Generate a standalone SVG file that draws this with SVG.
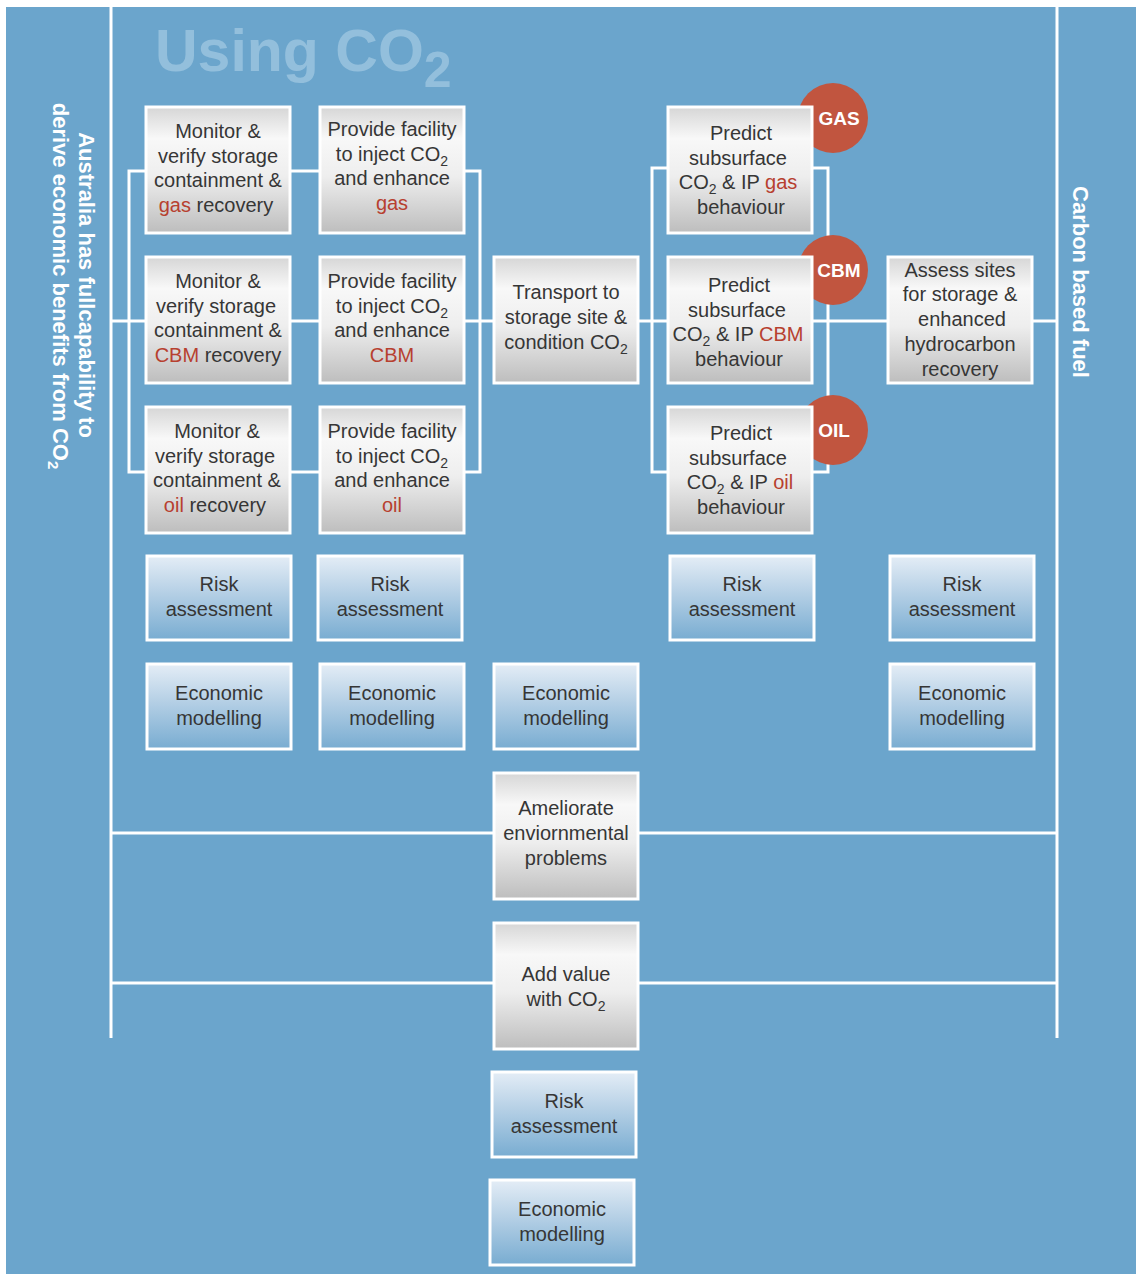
<svg xmlns="http://www.w3.org/2000/svg" width="1136" height="1274" viewBox="0 0 1136 1274">
  <defs>
    <linearGradient id="gGrey" x1="0" y1="0" x2="0" y2="1">
      <stop offset="0" stop-color="#d6d6d6"/>
      <stop offset="0.25" stop-color="#f8f8f8"/>
      <stop offset="0.55" stop-color="#eeeeee"/>
      <stop offset="1" stop-color="#bdbdbd"/>
    </linearGradient>
    <linearGradient id="gBlue" x1="0" y1="0" x2="0" y2="1">
      <stop offset="0" stop-color="#e4edf6"/>
      <stop offset="0.45" stop-color="#b4cfe5"/>
      <stop offset="1" stop-color="#78acd1"/>
    </linearGradient>
    <style>
      .bg { fill: #6ba5cc; }
      .wire { fill: none; stroke: #ffffff; stroke-width: 3; }
      .g { fill: url(#gGrey); stroke: #ffffff; stroke-width: 3; }
      .b { fill: url(#gBlue); stroke: #ffffff; stroke-width: 3; }
      .t { font-family: "Liberation Sans", Arial, sans-serif; font-size: 20px; fill: #363636; text-anchor: middle; }
      .r { fill: #b7402f; }
      .sub { font-size: 14px; }
      .tag { fill: #c1553f; }
      .tagt { font-family: "Liberation Sans", Arial, sans-serif; font-size: 19px; font-weight: bold; fill: #ffffff; text-anchor: middle; }
      .side { font-family: "Liberation Sans", Arial, sans-serif; font-size: 22px; font-weight: bold; fill: #ffffff; text-anchor: middle; }
      .title { font-family: "Liberation Sans", Arial, sans-serif; font-weight: bold; fill: #93bfdc; }
    </style>
  </defs>

  <!-- backdrop -->
  <rect class="bg" x="6" y="7" width="1130" height="1267"/>

  <!-- heading -->
  <text class="title" x="155" y="71" font-size="59">Using CO<tspan font-size="50" dy="16">2</tspan></text>

  <!-- side captions -->
  <g id="caption-left">
    <text class="side" transform="translate(79,285) rotate(90)">Australia has fullcapability to</text>
    <text class="side" transform="translate(53,286) rotate(90)">derive economic benefits from CO<tspan font-size="15" dy="5">2</tspan></text>
  </g>
  <g id="caption-right">
    <text class="side" transform="translate(1073,282) rotate(90)">Carbon based fuel</text>
  </g>

  <!-- connectors -->
  <g id="connectors">
    <path class="wire" d="M111 7 V1038"/>
    <path class="wire" d="M1057 7 V1038"/>
    <path class="wire" d="M111 321 H1057"/>
    <path class="wire" d="M111 833 H1057"/>
    <path class="wire" d="M111 983 H1057"/>
    <path class="wire" d="M146 171 H129 V472 H146"/>
    <path class="wire" d="M290 171 H320"/>
    <path class="wire" d="M290 472 H320"/>
    <path class="wire" d="M464 171 H480 V472 H464"/>
    <path class="wire" d="M668 168 H652 V472 H668"/>
    <path class="wire" d="M812 168 H828 V472 H812"/>
  </g>

  <!-- resource tags behind the prediction boxes -->
  <g id="tag-gas"><circle class="tag" cx="833" cy="118" r="35"/><text class="tagt" x="839" y="125">GAS</text></g>
  <g id="tag-cbm"><circle class="tag" cx="833" cy="270" r="35"/><text class="tagt" x="839" y="277">CBM</text></g>
  <g id="tag-oil"><circle class="tag" cx="833" cy="430" r="35"/><text class="tagt" x="834" y="437">OIL</text></g>

  <!-- column 1: monitoring -->
  <g id="monitor-gas">
    <rect class="g" x="146" y="107" width="144" height="126"/>
    <text class="t" x="218" y="138">Monitor &amp;</text>
    <text class="t" x="218" y="163">verify storage</text>
    <text class="t" x="218" y="187">containment &amp;</text>
    <text class="t" x="216" y="212"><tspan class="r">gas</tspan> recovery</text>
  </g>
  <g id="monitor-cbm">
    <rect class="g" x="146" y="257" width="144" height="126"/>
    <text class="t" x="218" y="288">Monitor &amp;</text>
    <text class="t" x="216" y="313">verify storage</text>
    <text class="t" x="218" y="337">containment &amp;</text>
    <text class="t" x="218" y="362"><tspan class="r">CBM</tspan> recovery</text>
  </g>
  <g id="monitor-oil">
    <rect class="g" x="146" y="407" width="144" height="126"/>
    <text class="t" x="217" y="438">Monitor &amp;</text>
    <text class="t" x="215" y="463">verify storage</text>
    <text class="t" x="217" y="487">containment &amp;</text>
    <text class="t" x="215" y="512"><tspan class="r">oil</tspan> recovery</text>
  </g>

  <!-- column 2: injection -->
  <g id="inject-gas">
    <rect class="g" x="320" y="107" width="144" height="126"/>
    <text class="t" x="392" y="136">Provide facility</text>
    <text class="t" x="392" y="161">to inject CO<tspan class="sub" dy="5">2</tspan></text>
    <text class="t" x="392" y="185">and enhance</text>
    <text class="t r" x="392" y="210">gas</text>
  </g>
  <g id="inject-cbm">
    <rect class="g" x="320" y="257" width="144" height="126"/>
    <text class="t" x="392" y="288">Provide facility</text>
    <text class="t" x="392" y="313">to inject CO<tspan class="sub" dy="5">2</tspan></text>
    <text class="t" x="392" y="337">and enhance</text>
    <text class="t r" x="392" y="362">CBM</text>
  </g>
  <g id="inject-oil">
    <rect class="g" x="320" y="407" width="144" height="126"/>
    <text class="t" x="392" y="438">Provide facility</text>
    <text class="t" x="392" y="463">to inject CO<tspan class="sub" dy="5">2</tspan></text>
    <text class="t" x="392" y="487">and enhance</text>
    <text class="t r" x="392" y="512">oil</text>
  </g>

  <!-- column 3: transport -->
  <g id="transport">
    <rect class="g" x="494" y="257" width="144" height="126"/>
    <text class="t" x="566" y="299">Transport to</text>
    <text class="t" x="566" y="324">storage site &amp;</text>
    <text class="t" x="566" y="349">condition CO<tspan class="sub" dy="5">2</tspan></text>
  </g>

  <!-- column 4: subsurface prediction -->
  <g id="predict-gas">
    <rect class="g" x="668" y="107" width="144" height="126"/>
    <text class="t" x="741" y="140">Predict</text>
    <text class="t" x="738" y="165">subsurface</text>
    <text class="t" x="738" y="189">CO<tspan class="sub" dy="5">2</tspan><tspan dy="-5"> &amp; IP </tspan><tspan class="r">gas</tspan></text>
    <text class="t" x="741" y="214">behaviour</text>
  </g>
  <g id="predict-cbm">
    <rect class="g" x="668" y="257" width="144" height="126"/>
    <text class="t" x="739" y="292">Predict</text>
    <text class="t" x="737" y="317">subsurface</text>
    <text class="t" x="738" y="341">CO<tspan class="sub" dy="5">2</tspan><tspan dy="-5"> &amp; IP </tspan><tspan class="r">CBM</tspan></text>
    <text class="t" x="739" y="366">behaviour</text>
  </g>
  <g id="predict-oil">
    <rect class="g" x="668" y="407" width="144" height="126"/>
    <text class="t" x="741" y="440">Predict</text>
    <text class="t" x="738" y="465">subsurface</text>
    <text class="t" x="740" y="489">CO<tspan class="sub" dy="5">2</tspan><tspan dy="-5"> &amp; IP </tspan><tspan class="r">oil</tspan></text>
    <text class="t" x="741" y="514">behaviour</text>
  </g>

  <!-- column 5: site assessment -->
  <g id="assess">
    <rect class="g" x="888" y="257" width="144" height="126"/>
    <text class="t" x="960" y="277">Assess sites</text>
    <text class="t" x="960" y="301">for storage &amp;</text>
    <text class="t" x="962" y="326">enhanced</text>
    <text class="t" x="960" y="351">hydrocarbon</text>
    <text class="t" x="960" y="376">recovery</text>
  </g>

  <!-- risk assessment row -->
  <g id="risk-1"><rect class="b" x="147" y="556" width="144" height="84"/><text class="t" x="219" y="591">Risk</text><text class="t" x="219" y="616">assessment</text></g>
  <g id="risk-2"><rect class="b" x="318" y="556" width="144" height="84"/><text class="t" x="390" y="591">Risk</text><text class="t" x="390" y="616">assessment</text></g>
  <g id="risk-4"><rect class="b" x="670" y="556" width="144" height="84"/><text class="t" x="742" y="591">Risk</text><text class="t" x="742" y="616">assessment</text></g>
  <g id="risk-5"><rect class="b" x="890" y="556" width="144" height="84"/><text class="t" x="962" y="591">Risk</text><text class="t" x="962" y="616">assessment</text></g>

  <!-- economic modelling row -->
  <g id="econ-1"><rect class="b" x="147" y="664" width="144" height="85"/><text class="t" x="219" y="700">Economic</text><text class="t" x="219" y="725">modelling</text></g>
  <g id="econ-2"><rect class="b" x="320" y="664" width="144" height="85"/><text class="t" x="392" y="700">Economic</text><text class="t" x="392" y="725">modelling</text></g>
  <g id="econ-3"><rect class="b" x="494" y="664" width="144" height="85"/><text class="t" x="566" y="700">Economic</text><text class="t" x="566" y="725">modelling</text></g>
  <g id="econ-5"><rect class="b" x="890" y="664" width="144" height="85"/><text class="t" x="962" y="700">Economic</text><text class="t" x="962" y="725">modelling</text></g>

  <!-- lower spine -->
  <g id="ameliorate">
    <rect class="g" x="494" y="773" width="144" height="126"/>
    <text class="t" x="566" y="815">Ameliorate</text>
    <text class="t" x="566" y="840">enviornmental</text>
    <text class="t" x="566" y="865">problems</text>
  </g>
  <g id="add-value">
    <rect class="g" x="494" y="923" width="144" height="126"/>
    <text class="t" x="566" y="981">Add value</text>
    <text class="t" x="566" y="1006">with CO<tspan class="sub" dy="5">2</tspan></text>
  </g>
  <g id="risk-bottom"><rect class="b" x="492" y="1072" width="144" height="85"/><text class="t" x="564" y="1108">Risk</text><text class="t" x="564" y="1133">assessment</text></g>
  <g id="econ-bottom"><rect class="b" x="490" y="1180" width="144" height="85"/><text class="t" x="562" y="1216">Economic</text><text class="t" x="562" y="1241">modelling</text></g>
</svg>
